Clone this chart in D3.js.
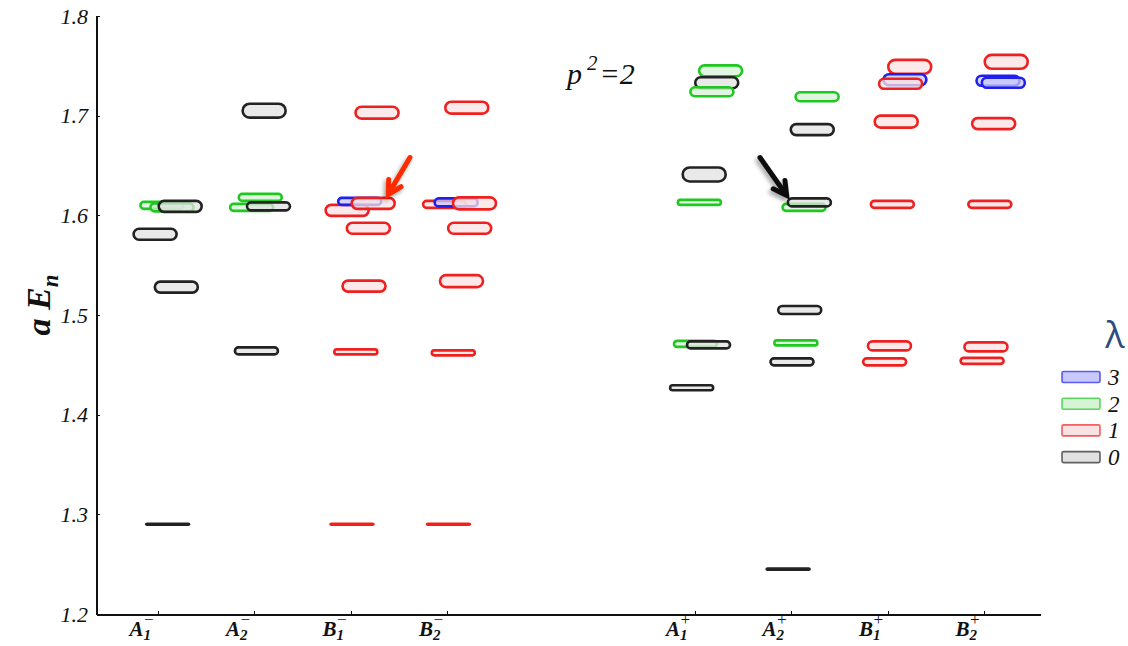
<!DOCTYPE html>
<html>
<head>
  <meta charset="utf-8" />
  <script src="https://d3js.org/d3.v7.min.js"></script>
  <style>
    body {
      margin: 0;
      background: #fff;
    }
    svg text {
      font-family: "Liberation Serif", "DejaVu Serif", serif;
    }
    .axis path, .axis line {
      stroke: #111;
      shape-rendering: crispEdges;
    }
    .axis path {
      stroke-width: 2px;
    }
  </style>
</head>
<body>
  <script>
    // categories (letter, subscript, superscript) and where they sit on the x axis
    var catLetter = ["A", "A", "B", "B", "A", "A", "B", "B"];
    var catSub = ["1", "2", "1", "2", "1", "2", "1", "2"];
    var catSup = ["\u2212", "\u2212", "\u2212", "\u2212", "+", "+", "+", "+"];
    var catPos = [1, 2, 3, 4, 6.56, 7.56, 8.56, 9.56];

    var yTicks = [1.2, 1.3, 1.4, 1.5, 1.6, 1.7, 1.8];
    var lambdas = [3, 2, 1, 0];

    // each level: category index, lambda, energy, half error, horizontal shift inside column
    var lvCat =    [0, 0, 0, 0, 0, 0,
                    1, 1, 1, 1, 1,
                    2, 2, 2, 2, 2, 2, 2, 2,
                    3, 3, 3, 3, 3, 3, 3, 3,
                    4, 4, 4, 4, 4, 4, 4, 4,
                    5, 5, 5, 5, 5, 5, 5, 5,
                    6, 6, 6, 6, 6, 6, 6,
                    7, 7, 7, 7, 7, 7, 7];
    var lvLambda = [2, 2, 0, 0, 0, 0,
                    2, 2, 0, 0, 0,
                    1, 3, 1, 1, 1, 1, 1, 1,
                    1, 3, 1, 1, 1, 1, 1, 1,
                    2, 0, 2, 0, 2, 2, 0, 0,
                    2, 0, 2, 0, 0, 2, 0, 0,
                    1, 3, 1, 1, 1, 1, 1,
                    1, 3, 3, 1, 1, 1, 1];
    var lvE =      [1.610, 1.608, 1.609, 1.581, 1.528, 1.290,
                    1.618, 1.608, 1.609, 1.705, 1.464,
                    1.605, 1.614, 1.612, 1.587, 1.529, 1.703, 1.463, 1.290,
                    1.611, 1.613, 1.612, 1.587, 1.534, 1.708, 1.462, 1.290,
                    1.745, 1.733, 1.724, 1.641, 1.613, 1.471, 1.470, 1.427,
                    1.719, 1.686, 1.608, 1.613, 1.505, 1.472, 1.453, 1.245,
                    1.749, 1.736, 1.732, 1.694, 1.611, 1.469, 1.453,
                    1.754, 1.735, 1.733, 1.692, 1.611, 1.468, 1.454];
    var lvErr =    [0.0035, 0.004, 0.0055, 0.0055, 0.0055, 0.0005,
                    0.0035, 0.0035, 0.004, 0.007, 0.0035,
                    0.0055, 0.0035, 0.0055, 0.0055, 0.0055, 0.006, 0.0025, 0.0005,
                    0.0035, 0.004, 0.006, 0.0055, 0.006, 0.006, 0.0025, 0.0005,
                    0.0055, 0.0055, 0.0045, 0.007, 0.0025, 0.003, 0.0035, 0.0025,
                    0.0045, 0.0055, 0.0035, 0.004, 0.004, 0.0025, 0.0035, 0.0005,
                    0.007, 0.0055, 0.005, 0.006, 0.0035, 0.0045, 0.0035,
                    0.007, 0.005, 0.005, 0.0055, 0.0035, 0.0045, 0.003];
    var lvShift =  [0.04, 0.145, 0.23, -0.03, 0.19, 0.10,
                    0.06, -0.03, 0.145, 0.10, 0.02,
                    -0.04, 0.09, 0.23, 0.18, 0.135, 0.27, 0.05, 0.01,
                    -0.03, 0.09, 0.28, 0.23, 0.145, 0.20, 0.06, 0.01,
                    0.27, 0.23, 0.18, 0.10, 0.05, 0.01, 0.145, -0.03,
                    0.27, 0.22, 0.135, 0.19, 0.09, 0.05, 0.01, -0.03,
                    0.23, 0.18, 0.135, 0.09, 0.05, 0.02, -0.03,
                    0.23, 0.145, 0.20, 0.10, 0.06, 0.02, -0.02];

    // arrows: [tail x, tail E, tip x, tip E]
    var redArrow = [3.611, 1.658, 3.385, 1.621];
    var blackArrow = [7.238, 1.658, 7.515, 1.620];

    var stroke = { 3: "#1f1fee", 2: "#1ec81e", 1: "#ee2020", 0: "#222222" };
    var fill = { 3: "#c8c8fa", 2: "#d6f3d6", 1: "#fbe2e2", 0: "#e2e2e2" };

    var x = d3.scaleLinear().domain([0.3575, 10.14]).range([96, 1040]);
    var y = d3.scaleLinear().domain([1.2, 1.8]).range([614, 16]);
    var pillW = 43;

    var svg = d3.select("body")
      .append("svg")
      .attr("width", 1128)
      .attr("height", 646);

    var defs = svg.append("defs");
    var shadow = defs.append("filter")
      .attr("id", "shadow")
      .attr("x", "-50%").attr("y", "-50%")
      .attr("width", "200%").attr("height", "200%");
    shadow.append("feDropShadow")
      .attr("dx", -2).attr("dy", 3)
      .attr("stdDeviation", 2)
      .attr("flood-opacity", 0.35);

    // axes
    svg.append("g")
      .attr("class", "y axis")
      .attr("transform", "translate(96 0)")
      .call(d3.axisLeft(y).tickValues(yTicks).tickSizeInner(-4).tickSizeOuter(0).tickPadding(8)
        .tickFormat(d3.format(".1f")))
      .call(function(g) {
        g.selectAll("text")
          .style("font-size", "22px")
          .style("font-style", "italic")
          .attr("fill", "#111");
      });

    var xAxis = svg.append("g")
      .attr("class", "x axis")
      .attr("transform", "translate(0 614)")
      .call(d3.axisBottom(x).tickValues(catPos).tickSizeInner(-3).tickSizeOuter(0).tickFormat(""));

    var labels = xAxis.selectAll(".xlab")
      .data(catPos)
      .enter()
      .append("text")
      .attr("class", "xlab")
      .attr("x", function(d) { return x(d) - 16; })
      .attr("y", 22)
      .style("font-size", "21px")
      .style("font-style", "italic")
      .style("font-weight", "bold")
      .attr("fill", "#111");
    labels.append("tspan").text(function(d, i) { return catLetter[i]; });
    labels.append("tspan")
      .attr("dy", 4)
      .style("font-size", "15px")
      .text(function(d, i) { return catSub[i]; });
    labels.append("tspan")
      .attr("dx", -8)
      .attr("dy", -15)
      .style("font-size", "17px")
      .style("font-weight", "normal")
      .text(function(d, i) { return catSup[i]; });

    // levels
    var levels = lvE.map(function(e, i) {
      return { cat: lvCat[i], lambda: lvLambda[i], e: e, err: lvErr[i], shift: lvShift[i] };
    });

    svg.append("g")
      .selectAll("rect")
      .data(levels)
      .enter()
      .append("rect")
      .attr("x", function(d) { return x(catPos[d.cat] + d.shift) - pillW / 2; })
      .attr("y", function(d) { return y(d.e + d.err); })
      .attr("width", pillW)
      .attr("height", function(d) { return y(d.e - d.err) - y(d.e + d.err); })
      .attr("rx", function(d) { return Math.max(1, (y(d.e - d.err) - y(d.e + d.err)) / 2); })
      .attr("fill", function(d) { return fill[d.lambda]; })
      .attr("fill-opacity", 0.75)
      .attr("stroke", function(d) { return stroke[d.lambda]; })
      .attr("stroke-width", 2.6);

    // arrows
    function arrow(a, color) {
      var x1 = x(a[0]), y1 = y(a[1]), x2 = x(a[2]), y2 = y(a[3]);
      var ang = Math.atan2(y2 - y1, x2 - x1);
      var hl = 15, hw = 0.5;
      var g = svg.append("g").attr("filter", "url(#shadow)");
      g.append("line")
        .attr("x1", x1).attr("y1", y1)
        .attr("x2", x2 - 3 * Math.cos(ang)).attr("y2", y2 - 3 * Math.sin(ang))
        .attr("stroke", color)
        .attr("stroke-width", 5)
        .attr("stroke-linecap", "round");
      var p1 = [x2 - hl * Math.cos(ang - hw), y2 - hl * Math.sin(ang - hw)];
      var p2 = [x2 - hl * Math.cos(ang + hw), y2 - hl * Math.sin(ang + hw)];
      g.append("path")
        .attr("d", "M" + p1 + "L" + x2 + "," + y2 + "L" + p2)
        .attr("fill", "none")
        .attr("stroke", color)
        .attr("stroke-width", 5)
        .attr("stroke-linecap", "round")
        .attr("stroke-linejoin", "miter");
    }
    arrow(redArrow, "#ff2a00");
    arrow(blackArrow, "#111");

    // y axis title
    var yt = svg.append("text")
      .attr("transform", "translate(50 305) rotate(-90)")
      .attr("text-anchor", "middle")
      .style("font-size", "34px")
      .style("font-style", "italic")
      .style("font-weight", "bold")
      .attr("fill", "#111");
    yt.append("tspan").text("a E");
    yt.append("tspan").attr("dy", 8).style("font-size", "23px").text("n");

    // p^2 = 2
    var pt = svg.append("text")
      .attr("x", 567)
      .attr("y", 84)
      .style("font-size", "30px")
      .style("font-style", "italic")
      .attr("fill", "#111");
    pt.append("tspan").text("p");
    pt.append("tspan").attr("dx", 5).attr("dy", -14).style("font-size", "21px").text("2");
    pt.append("tspan").attr("dx", 2).attr("dy", 14).text("=2");

    // legend
    svg.append("text")
      .attr("x", 1115)
      .attr("y", 348)
      .attr("text-anchor", "middle")
      .style("font-family", "'Open Sans', sans-serif")
      .style("font-size", "36px")
      .attr("fill", "#2d4b7e")
      .text("\u03bb");

    var leg = svg.append("g")
      .selectAll("g")
      .data(lambdas)
      .enter()
      .append("g")
      .attr("transform", function(d, i) { return "translate(1062 " + (377 + i * 26.7) + ")"; });
    leg.append("rect")
      .attr("x", 0)
      .attr("y", -5.5)
      .attr("width", 38)
      .attr("height", 11)
      .attr("rx", 1.5)
      .attr("fill", function(d) { return fill[d]; })
      .attr("stroke", function(d) { return stroke[d]; })
      .attr("stroke-opacity", 0.7)
      .attr("stroke-width", 1.6);
    leg.append("text")
      .attr("x", 46)
      .attr("y", 8)
      .style("font-size", "23px")
      .style("font-style", "italic")
      .attr("fill", "#111")
      .text(function(d) { return d; });
  </script>
</body>
</html>
